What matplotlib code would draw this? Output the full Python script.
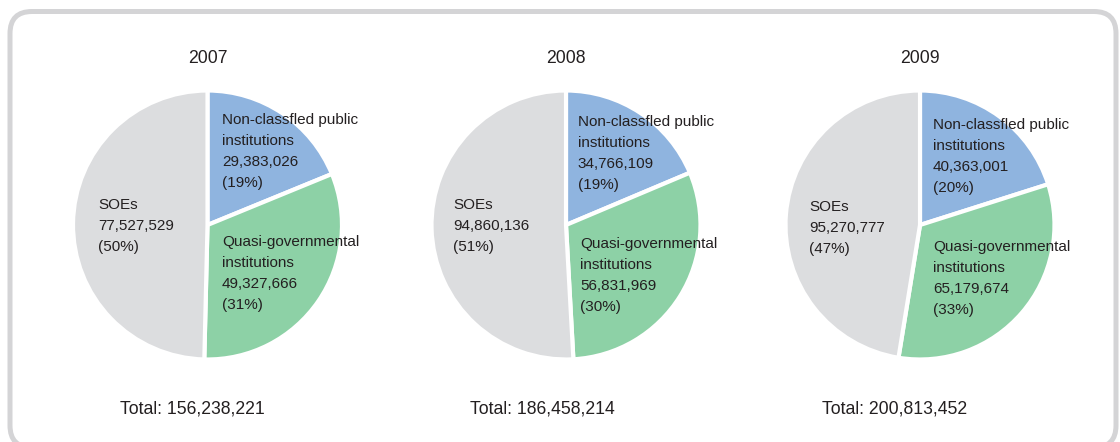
import matplotlib
matplotlib.use('Agg')
import matplotlib.pyplot as plt
from matplotlib.patches import FancyBboxPatch

plt.rcParams['font.family'] = ['Liberation Sans', 'DejaVu Sans']

# data
years = ['2007', '2008', '2009']
categories = ['Non-classfled public\ninstitutions', 'Quasi-governmental\ninstitutions', 'SOEs']
non_classified = [29383026, 34766109, 40363001]
quasi_gov = [49327666, 56831969, 65179674]
soes = [77527529, 94860136, 95270777]
shares = [['19%', '31%', '50%'],
          ['19%', '30%', '51%'],
          ['20%', '33%', '47%']]
totals = [156238221, 186458214, 200813452]

colors = ['#8fb4df', '#8dd1a6', '#dcdddf']
text_color = '#231f20'

W, H = 1120, 442
fig = plt.figure(figsize=(W / 100, H / 100), dpi=100)

# background axes in pixel units, for the rounded frame
bg = fig.add_axes([0, 0, 1, 1])
bg.set_xlim(0, W)
bg.set_ylim(H, 0)
bg.axis('off')
bg.add_patch(FancyBboxPatch((10, 11.5), 1106, 436,
                            boxstyle='round,pad=0,rounding_size=22',
                            facecolor='white', edgecolor='#d4d4d6', linewidth=3.6))

# layout (pixels), per pie
centers = [(207.5, 225), (566, 225), (920, 225)]
r = 132.5
label_pos = [[(0.110, 0.845), (0.110, -0.075), (-0.826, 0.204)],
             [(0.090, 0.830), (0.106, -0.090), (-0.853, 0.204)],
             [(0.098, 0.808), (0.098, -0.113), (-0.838, 0.189)]]
total_x = [-0.117, -0.181, -0.192]

for i, year in enumerate(years):
    cx, cy = centers[i]
    ax = fig.add_axes([(cx - r) / W, 1 - (cy + r) / H, 2 * r / W, 2 * r / H])
    values = [non_classified[i], quasi_gov[i], soes[i]]
    ax.pie(values, colors=colors, startangle=90, counterclock=False, radius=1.015,
           wedgeprops=dict(edgecolor='white', linewidth=3))
    ax.set_xlim(-1, 1)
    ax.set_ylim(-1, 1)

    for j, cat in enumerate(categories):
        lx, ly = label_pos[i][j]
        txt = f'{cat}\n{values[j]:,}\n({shares[i][j]})'
        ax.text(lx, ly, txt, ha='left', va='top', fontsize=11, color=text_color,
                linespacing=1.65, clip_on=False)

    ax.text(0, 1.223, year, ha='center', va='baseline', fontsize=12.7,
            color=text_color, clip_on=False)
    ax.text(total_x[i], -1.419, f'Total: {totals[i]:,}', ha='center', va='baseline',
            fontsize=12.7, color=text_color, clip_on=False)

fig.savefig('out.png', dpi=100)
